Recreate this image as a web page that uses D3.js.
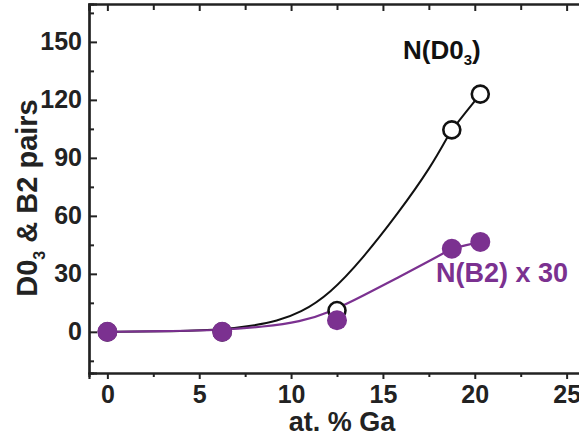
<!DOCTYPE html>
<html>
<head>
<meta charset="utf-8">
<script src="https://cdn.jsdelivr.net/npm/d3@7"></script>
<style>
  html, body { margin: 0; padding: 0; background: #fff; }
  svg { display: block; }
  text { font-family: "Liberation Sans", Arial, Helvetica, sans-serif; font-weight: bold; }
</style>
</head>
<body>
<script>
// ---- data ----
const gaPct = [0, 6.25, 12.5, 18.75, 20.3];
const nD03 = [0, 0, 11, 104.5, 123];
const nB2x30 = [0, 0, 6, 43, 46.5];

// fitted guide curves
const fitD03X = [0, 3, 6.25, 8, 9.2, 10.5, 12.1, 13.95, 15.8, 17.6, 18.7, 18.75, 20.3];
const fitD03Y = [0, 0.2, 1, 3.3, 5.5, 9.8, 19.5, 38.5, 61, 85, 104, 104.5, 123];
const fitB2X = [0, 3, 6.25, 8.5, 10.5, 12.1, 14, 15.8, 17.6, 18.75, 18.8, 20.3];
const fitB2Y = [0, 0.3, 0.9, 2.6, 5.2, 10, 19, 28, 37, 43, 43.2, 46.5];

const xTicks = [0, 5, 10, 15, 20, 25];
const xMinor = [2.5, 7.5, 12.5, 17.5, 22.5];
const yTicks = [0, 30, 60, 90, 120, 150];
const yMinor = [-15, 15, 45, 75, 105, 135, 165];

const purple = "#7b3190";
const axisColor = "#222";

const W = 579, H = 441;
const mLeft = 89, mTop = 4, mRight = 585, mBottom = 373;

const svg = d3.select("body").append("svg").attr("width", W).attr("height", H);

const x = d3.scaleLinear().domain([-1, 26]).range([mLeft, mRight]);
const y = d3.scaleLinear().domain([-21.3, 169.6]).range([mBottom, mTop]);

// axes
const axB = svg.append("g").attr("transform", `translate(0,${mBottom})`)
  .call(d3.axisBottom(x).tickValues(xTicks).tickSize(6).tickFormat(d3.format("d")));
const axBm = svg.append("g").attr("transform", `translate(0,${mBottom})`)
  .call(d3.axisBottom(x).tickValues(xMinor).tickSize(4).tickFormat(""));
const axT = svg.append("g").attr("transform", `translate(0,${mTop})`)
  .call(d3.axisTop(x).tickValues(xTicks).tickSize(-7).tickFormat(""));
const axTm = svg.append("g").attr("transform", `translate(0,${mTop})`)
  .call(d3.axisTop(x).tickValues(xMinor).tickSize(-6).tickFormat(""));
const axL = svg.append("g").attr("transform", `translate(${mLeft},0)`)
  .call(d3.axisLeft(y).tickValues(yTicks).tickSize(-8).tickPadding(7).tickFormat(d3.format("d")));
const axLm = svg.append("g").attr("transform", `translate(${mLeft},0)`)
  .call(d3.axisLeft(y).tickValues(yMinor).tickSize(-5).tickFormat(""));

[axB, axBm, axT, axTm, axL, axLm].forEach(g => {
  g.selectAll("path.domain").attr("stroke", axisColor).attr("stroke-width", 2.2);
  g.selectAll(".tick line").attr("stroke", axisColor).attr("stroke-width", 2);
  g.selectAll(".tick text").attr("fill", "#222").style("font-size", "25px")
   .style("font-family", '"Liberation Sans", Arial, sans-serif').style("font-weight", "bold");
});
axB.selectAll(".tick text").attr("y", 30).attr("dy", 0);

// curves
const line = d3.line().x(d => x(d[0])).y(d => y(d[1])).curve(d3.curveBasis);
svg.append("path").datum(fitD03X.map((v, i) => [v, fitD03Y[i]]))
  .attr("d", line).attr("fill", "none").attr("stroke", "#111").attr("stroke-width", 2);
svg.append("path").datum(fitB2X.map((v, i) => [v, fitB2Y[i]]))
  .attr("d", line).attr("fill", "none").attr("stroke", purple).attr("stroke-width", 2.2);

// open circles D03
svg.append("g").selectAll("circle").data(gaPct.map((v, i) => [v, nD03[i]]))
  .join("circle").attr("cx", d => x(d[0])).attr("cy", d => y(d[1])).attr("r", 8.5)
  .attr("fill", "#fff").attr("stroke", "#111").attr("stroke-width", 2.6);
// filled circles B2
svg.append("g").selectAll("circle").data(gaPct.map((v, i) => [v, nB2x30[i]]))
  .join("circle").attr("cx", d => x(d[0])).attr("cy", d => y(d[1])).attr("r", 10)
  .attr("fill", purple);

// labels
const t1 = svg.append("text").attr("x", 403).attr("y", 59).attr("fill", "#111").style("font-size", "26px");
t1.append("tspan").text("N(D0");
t1.append("tspan").text("3").style("font-size", "15px").attr("dy", 6);
t1.append("tspan").text(")").attr("dy", -6);

svg.append("text").attr("x", 436).attr("y", 282).attr("fill", purple).style("font-size", "27px")
  .text("N(B2) x 30");

svg.append("text").attr("x", 342).attr("y", 431).attr("text-anchor", "middle").attr("fill", "#222")
  .style("font-size", "27px").text("at. % Ga");

const yt = svg.append("text").attr("transform", "translate(37,198) rotate(-90)")
  .attr("text-anchor", "middle").attr("fill", "#222").style("font-size", "29px");
yt.append("tspan").text("D0");
yt.append("tspan").text("3").style("font-size", "16px").attr("dy", 8);
yt.append("tspan").text(" & B2 pairs").attr("dy", -8);
</script>
</body>
</html>
